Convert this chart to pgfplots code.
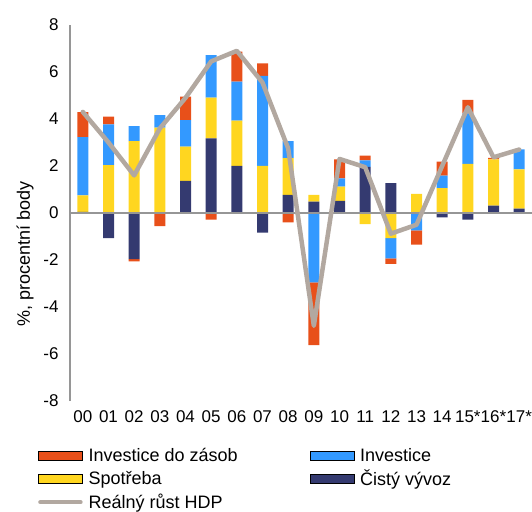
\documentclass[border=0pt]{standalone}
\usepackage{fontspec}
\setmainfont{Liberation Sans}
\usepackage{pgfplots}
\usepackage{pgfplotstable}
\pgfplotsset{compat=1.18}

\definecolor{cOrange}{RGB}{232,80,26}
\definecolor{cBlue}{RGB}{51,153,255}
\definecolor{cYellow}{RGB}{255,214,32}
\definecolor{cNavy}{RGB}{52,58,112}
\definecolor{cLine}{RGB}{178,168,160}
\definecolor{cAxis}{RGB}{150,150,150}

% NX = Cisty vyvoz, C = Spotreba, I = Investice, S = Investice do zasob, G = Realny rust HDP
\pgfplotstableread{
x NX C I S G
0 0.05 0.70 2.48 1.06 4.3
1 -1.07 2.04 1.73 0.33 3.0
2 -1.96 3.06 0.64 -0.10 1.6
3 0.00 3.63 0.53 -0.56 3.6
4 1.37 1.45 1.13 1.00 4.9
5 3.18 1.73 1.81 -0.28 6.45
6 2.01 1.92 1.66 1.28 6.9
7 -0.83 2.01 3.83 0.53 5.55
8 0.77 1.56 0.73 -0.40 2.75
9 0.48 0.29 -2.95 -2.67 -4.8
10 0.52 0.60 0.35 0.81 2.3
11 1.96 -0.47 0.28 0.20 1.95
12 1.27 -1.07 -0.86 -0.23 -0.88
13 0.00 0.81 -0.74 -0.61 -0.5
14 -0.19 1.06 0.53 0.60 2.0
15 -0.28 2.09 2.15 0.57 4.5
16 0.31 1.97 0.00 0.07 2.37
17 0.19 1.67 0.85 0.00 2.7
}\data

\pgfplotsset{
  base/.style={scale only axis, width=462pt, height=376pt,
    xmin=-0.5, xmax=17.5, ymin=-8, ymax=8},
  barleg/.style={legend image code/.code={\fill[##1] (0pt,-4.5pt) rectangle (44pt,4.5pt);}},
  lineleg/.style={legend image code/.code={\draw[##1] (2pt,0pt) -- (42pt,0pt);}},
}

\begin{document}
\begin{tikzpicture}
\useasboundingbox (-70pt,-110pt) rectangle (462pt,401pt);
% positive contributions
\begin{axis}[base, hide axis, ybar stacked, bar width=11pt]
\addplot[fill=cNavy, draw=none] table[x=x, y expr={max(\thisrow{NX},0)}] {\data};
\addplot[fill=cYellow, draw=none] table[x=x, y expr={max(\thisrow{C},0)}] {\data};
\addplot[fill=cBlue, draw=none] table[x=x, y expr={max(\thisrow{I},0)}] {\data};
\addplot[fill=cOrange, draw=none] table[x=x, y expr={max(\thisrow{S},0)}] {\data};
\end{axis}
% negative contributions
\begin{axis}[base, hide axis, ybar stacked, bar width=11pt]
\addplot[fill=cNavy, draw=none] table[x=x, y expr={min(\thisrow{NX},0)}] {\data};
\addplot[fill=cYellow, draw=none] table[x=x, y expr={min(\thisrow{C},0)}] {\data};
\addplot[fill=cBlue, draw=none] table[x=x, y expr={min(\thisrow{I},0)}] {\data};
\addplot[fill=cOrange, draw=none] table[x=x, y expr={min(\thisrow{S},0)}] {\data};
\end{axis}
% decorations, line and legend
\begin{axis}[base,
  axis y line=left, axis x line=bottom,
  axis line style={-, draw=cAxis, line width=1.2pt},
  x axis line style={draw=none},
  major tick length=0pt,
  xtick={0,...,17},
  xticklabels={00,01,02,03,04,05,06,07,08,09,10,11,12,13,14,15*,16*,17*},
  ytick={-8,-6,...,8},
  extra y ticks={0}, extra y tick labels={},
  extra y tick style={grid=major, major grid style={draw=cAxis, line width=1.2pt}},
  /pgf/number format/assume math mode=true,
  tick label style={font=\fontsize{17}{20}\selectfont},
  yticklabel style={xshift=-8pt},
  xticklabel style={yshift=-6pt},
  ylabel={\%, procentní body},
  every axis y label/.style={at={(axis description cs:-0.097,0.39)}, rotate=90, anchor=center,
     font=\fontsize{18}{21}\selectfont},
  legend columns=2,
  legend cell align=left,
  legend style={at={(axis description cs:0,0)}, anchor=north west, xshift=-32pt, yshift=-45pt,
    draw=none, fill=none, inner sep=0pt, font=\fontsize{18}{21}\selectfont,
    /tikz/every odd column/.append style={column sep=4pt},
    /tikz/every even column/.append style={column sep=70pt},
    row sep=3pt},
]
\addlegendimage{barleg, fill=cOrange}
\addlegendentry{Investice do zásob}
\addlegendimage{barleg, fill=cBlue}
\addlegendentry{Investice}
\addlegendimage{barleg, fill=cYellow}
\addlegendentry{Spotřeba}
\addlegendimage{barleg, fill=cNavy}
\addlegendentry{Čistý vývoz}
\addplot[cLine, line width=4.5pt, line join=round, line cap=round, lineleg] table[x=x, y=G] {\data};
\addlegendentry{Reálný růst HDP}
\end{axis}
\end{tikzpicture}
\end{document}
